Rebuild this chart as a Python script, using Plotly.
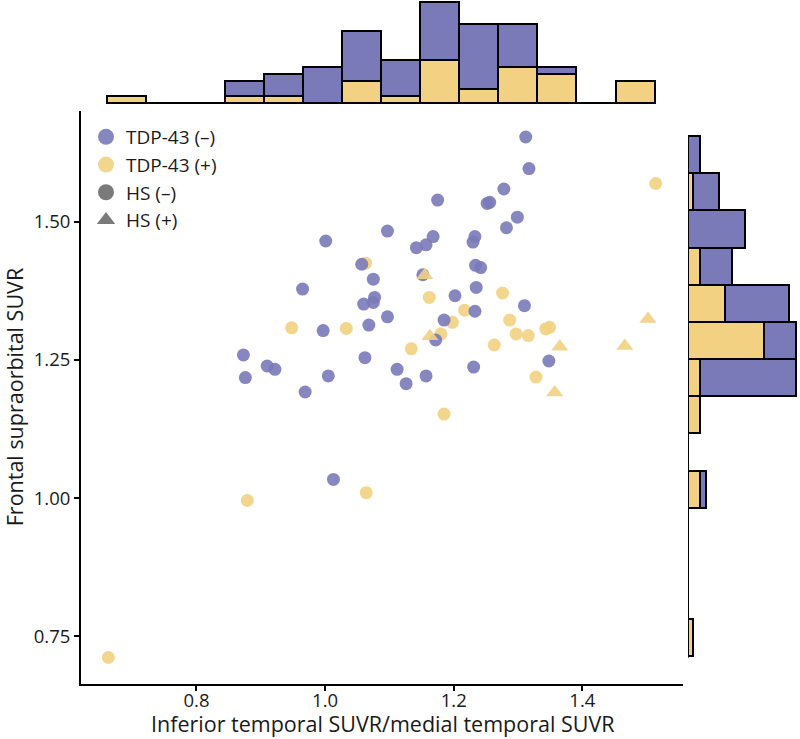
import numpy as np
import plotly.graph_objects as go

# ---------------- data ----------------
# TDP-43 (-) patients, all HS (-)
neg_x = [1.001, 1.057, 1.075, 0.965, 1.077, 1.075, 1.060, 0.997, 1.068, 0.873,
         0.910, 0.922, 0.876, 1.005, 0.969, 1.062, 1.312, 1.317, 1.278, 1.175,
         1.252, 1.256, 1.299, 1.282, 1.097, 1.168, 1.157, 1.142, 1.233, 1.230,
         1.152, 1.234, 1.242, 1.235, 1.202, 1.233, 1.310, 1.097, 1.185, 1.172,
         1.112, 1.126, 1.157, 1.231, 1.348, 1.013]
neg_y = [1.465, 1.423, 1.396, 1.378, 1.363, 1.354, 1.351, 1.303, 1.313, 1.259,
         1.239, 1.233, 1.218, 1.221, 1.192, 1.254, 1.653, 1.596, 1.559, 1.539,
         1.533, 1.535, 1.508, 1.489, 1.483, 1.473, 1.458, 1.453, 1.473, 1.463,
         1.404, 1.421, 1.417, 1.381, 1.366, 1.338, 1.348, 1.328, 1.322, 1.286,
         1.233, 1.207, 1.221, 1.237, 1.248, 1.034]

# TDP-43 (+) patients, HS (-)
pos_x = [1.063, 0.948, 1.033, 1.514, 1.276, 1.162, 1.217, 1.198, 1.287, 1.349,
         1.343, 1.180, 1.297, 1.316, 1.263, 1.134, 1.328, 1.185, 0.879, 1.064,
         0.663]
pos_y = [1.425, 1.308, 1.307, 1.569, 1.371, 1.363, 1.340, 1.318, 1.322, 1.309,
         1.306, 1.297, 1.297, 1.294, 1.277, 1.270, 1.219, 1.152, 0.996, 1.010,
         0.712]

# TDP-43 (+) patients, HS (+)
pos_hs_x = [1.155, 1.502, 1.163, 1.365, 1.466, 1.357]
pos_hs_y = [1.403, 1.324, 1.293, 1.274, 1.275, 1.191]

# marginal histogram counts (14 bins each)
top_neg = [0, 0, 0, 2, 3, 5, 7, 5, 8, 9, 6, 1, 0, 0]
top_pos = [1, 0, 0, 1, 1, 0, 3, 1, 6, 2, 5, 4, 0, 3]
right_neg = [0, 0, 0, 0, 1, 0, 0, 15, 5, 10, 5, 9, 4, 2]   # bottom -> top
right_pos = [1, 0, 0, 0, 2, 0, 2, 2, 12, 6, 2, 0, 1, 0]

x_ticks = [0.8, 1.0, 1.2, 1.4]
y_ticks = [0.75, 1.00, 1.25, 1.50]

legend_names = ["TDP-43 (–)", "TDP-43 (+)", "HS (–)", "HS (+)"]
x_title = "Inferior temporal SUVR/medial temporal SUVR"
y_title = "Frontal supraorbital SUVR"

# ---------------- styling ----------------
PURPLE = "#7a7ab9"
YELLOW = "#f2d282"
GREY = "#6b6b6b"
W, H = 800, 739

all_x = np.array(neg_x + pos_x + pos_hs_x)
all_y = np.array(neg_y + pos_y + pos_hs_y)

def expanded(a):
    lo, hi = a.min(), a.max()
    pad = 0.05 * (hi - lo)
    return [lo - pad, hi + pad]

xr = expanded(all_x)
yr = expanded(all_y)

x_edges = np.linspace(all_x.min(), all_x.max(), len(top_neg) + 1)
y_edges = np.linspace(all_y.min(), all_y.max(), len(right_neg) + 1)
x_cent = (x_edges[:-1] + x_edges[1:]) / 2
y_cent = (y_edges[:-1] + y_edges[1:]) / 2
bw_x = x_edges[1] - x_edges[0]
bw_y = y_edges[1] - y_edges[0]

# pixel layout -> paper fractions
def px(v):
    return v / W

def py(v):
    return 1 - v / H

main_x_dom = [px(81), px(683)]
main_y_dom = [py(683.5), py(111)]
top_y_dom = [py(104), 1.0]
right_x_dom = [px(688), 1.0]

fig = go.Figure()

# top marginal histogram (stacked)
edge_line = dict(color="black", width=1.8)
fig.add_trace(go.Bar(x=x_cent, y=top_pos, width=bw_x, marker=dict(color=YELLOW, line=edge_line),
                     xaxis="x2", yaxis="y2", showlegend=False, hoverinfo="skip"))
fig.add_trace(go.Bar(x=x_cent, y=top_neg, width=bw_x, marker=dict(color=PURPLE, line=edge_line),
                     xaxis="x2", yaxis="y2", showlegend=False, hoverinfo="skip"))
fig.add_trace(go.Scatter(x=[x_edges[0], x_edges[-1]], y=[0, 0], mode="lines",
                         line=dict(color="black", width=2), xaxis="x2", yaxis="y2",
                         showlegend=False, hoverinfo="skip"))

# right marginal histogram (stacked, horizontal)
fig.add_trace(go.Bar(y=y_cent, x=right_pos, width=bw_y, orientation="h",
                     marker=dict(color=YELLOW, line=edge_line),
                     xaxis="x3", yaxis="y3", showlegend=False, hoverinfo="skip"))
fig.add_trace(go.Bar(y=y_cent, x=right_neg, width=bw_y, orientation="h",
                     marker=dict(color=PURPLE, line=edge_line),
                     xaxis="x3", yaxis="y3", showlegend=False, hoverinfo="skip"))
fig.add_trace(go.Scatter(x=[0, 0], y=[y_edges[0], y_edges[-1]], mode="lines",
                         line=dict(color="black", width=2), xaxis="x3", yaxis="y3",
                         showlegend=False, hoverinfo="skip"))

# scatter points
fig.add_trace(go.Scatter(x=pos_x, y=pos_y, mode="markers",
                         marker=dict(color=YELLOW, size=13, symbol="circle", opacity=0.9,
                                     line=dict(width=0)),
                         showlegend=False))
fig.add_trace(go.Scatter(x=neg_x, y=neg_y, mode="markers",
                         marker=dict(color=PURPLE, size=13, symbol="circle", opacity=0.9,
                                     line=dict(width=0)),
                         showlegend=False))
fig.add_trace(go.Scatter(x=pos_hs_x, y=pos_hs_y, mode="markers",
                         marker=dict(color=YELLOW, size=15, symbol="triangle-up", opacity=0.9,
                                     line=dict(width=0)),
                         showlegend=False))

# legend entries
leg_styles = [(PURPLE, "circle"), (YELLOW, "circle"), (GREY, "circle"), (GREY, "triangle-up")]
for name, (col, sym) in zip(legend_names, leg_styles):
    fig.add_trace(go.Scatter(x=[None], y=[None], mode="markers", name=name,
                             marker=dict(color=col, size=16, symbol=sym, opacity=0.9)))

axis_common = dict(showline=True, linecolor="black", linewidth=2, ticks="outside",
                   ticklen=5, tickwidth=2, tickcolor="black", showgrid=False,
                   zeroline=False, tickfont=dict(size=18.5, color="#1a1a1a"))

fig.update_layout(
    width=W, height=H,
    margin=dict(l=0, r=0, t=0, b=0),
    paper_bgcolor="white", plot_bgcolor="white",
    font=dict(family="Open Sans", color="#1a1a1a"),
    barmode="stack", bargap=0,
    xaxis=dict(domain=main_x_dom, range=xr, anchor="y", tickvals=x_ticks,
               tickformat=".1f", ticklabelstandoff=-6, **axis_common),
    yaxis=dict(domain=main_y_dom, range=yr, anchor="x", tickvals=y_ticks,
               tickformat=".2f", **axis_common),
    xaxis2=dict(domain=main_x_dom, range=xr, anchor="y2", visible=False),
    yaxis2=dict(domain=top_y_dom, range=[0, 104 / 7.2], anchor="x2", visible=False),
    xaxis3=dict(domain=right_x_dom, range=[0, 112 / 6.4], anchor="y3", visible=False),
    yaxis3=dict(domain=main_y_dom, range=yr, anchor="x3", visible=False),
    legend=dict(x=px(86), y=py(118), xanchor="left", yanchor="top",
                font=dict(size=19, color="#1a1a1a"), bgcolor="rgba(0,0,0,0)",
                itemsizing="trace", tracegroupgap=0, traceorder="normal"),
    annotations=[
        dict(text=x_title, x=(main_x_dom[0] + main_x_dom[1]) / 2, y=0,
             xref="paper", yref="paper", xanchor="center", yanchor="bottom",
             showarrow=False, borderpad=0, font=dict(size=21.5, color="#1a1a1a")),
        dict(text=y_title, x=px(14), y=(main_y_dom[0] + main_y_dom[1]) / 2,
             xref="paper", yref="paper", xanchor="center", yanchor="middle",
             textangle=-90, showarrow=False, borderpad=0,
             font=dict(size=21.5, color="#1a1a1a")),
    ],
)

fig.write_html("out.html", config={"displayModeBar": False},
               post_script="document.body.style.margin='0';document.body.style.overflow='hidden';")
